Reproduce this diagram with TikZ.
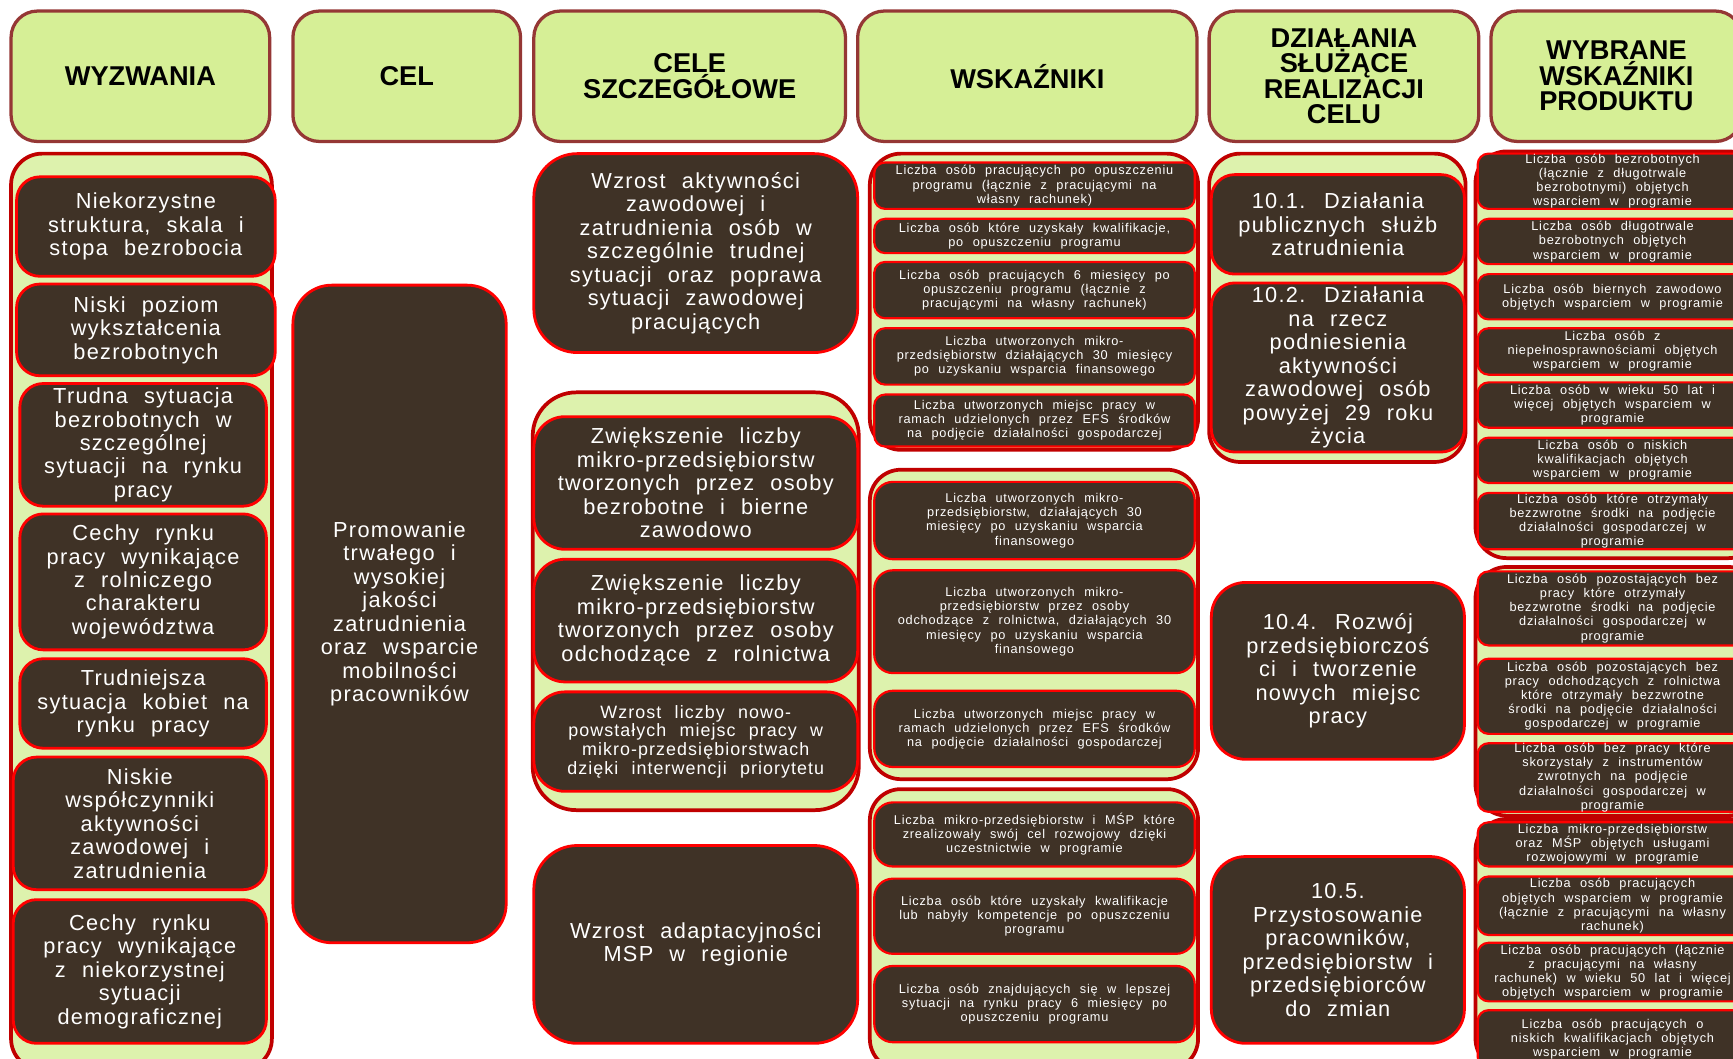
\documentclass[tikz,border=0pt]{standalone}
\usepackage{fontspec}
\setmainfont{Liberation Sans}
\newfontfamily\spaced[LetterSpace=6,WordSpace=0.75]{Liberation Sans}
\newfontfamily\widespaced[LetterSpace=6,WordSpace=2.2]{Liberation Sans}

\definecolor{headgreen}{HTML}{D6EF96}
\definecolor{headred}{HTML}{953735}
\definecolor{grpgreen}{HTML}{DDF2AD}
\definecolor{grpred}{HTML}{C00000}
\definecolor{boxbrown}{HTML}{3F3226}
\definecolor{boxred}{HTML}{FF0000}

\newcommand\headtxt{\bfseries\fontsize{17.5}{16.4}\selectfont\lineskiplimit=-20pt}
\newcommand\bigtxt{\spaced\fontsize{14}{15.1}\selectfont\lineskiplimit=-20pt}
\newcommand\midtxt{\widespaced\fontsize{11.5}{12.1}\selectfont\lineskiplimit=-20pt}
\newcommand\smalltxt{\spaced\fontsize{8.2}{9.1}\selectfont\lineskiplimit=-20pt}

\begin{document}
\begin{tikzpicture}[x=0.025cm, y=-0.025cm]
    \tikzset{
        corners/.style n args = {4}{at={({(#1+#3)/2},{(#2+#4)/2})},
                                    minimum width={(#3-#1)*0.025cm}, minimum height={(#4-#2)*0.025cm}},
        headbox/.style = {rectangle, rounded corners=17pt, draw=headred, fill=headgreen,
                          line width=2.1pt, inner sep=0pt, align=center, font=\headtxt},
        grpbox/.style = {rectangle, rounded corners=20pt, draw=grpred, fill=grpgreen,
                         line width=2.4pt, inner sep=0pt},
        block/.style = {rectangle, rounded corners=15pt, draw=boxred, fill=boxbrown,
                        line width=1.8pt, inner sep=0pt, text=white, align=center, font=\bigtxt},
        sblock/.style = {block, rounded corners=7pt, line width=1.4pt, font=\smalltxt}
    }
    \useasboundingbox (0,0) rectangle (1568,958);

    % nagłówki
    \node [headbox, corners={10}{10}{244}{128}] (hwyz) {WYZWANIA};
    \node [headbox, corners={265}{10}{471}{128}] (hcel) {CEL};
    \node [headbox, corners={483}{10}{765}{128}] (hcsz) {CELE\\SZCZEGÓŁOWE};
    \node [headbox, corners={776}{10}{1083}{128}] (hwsk) {WSKAŹNIKI};
    \node [headbox, corners={1094}{10}{1338}{128}] (hdzi) {DZIAŁANIA\\SŁUŻĄCE\\REALIZACJI\\CELU};
    \node [headbox, corners={1349}{10}{1576}{128}] (hwyb) {WYBRANE\\WSKAŹNIKI\\PRODUKTU};

    % wyzwania
    \node [grpbox, corners={10}{139}{246}{968}] (gwyz) {};
    \node [block, corners={15}{160}{249}{250}] (wyz1) {Niekorzystne\\struktura, skala i\\stopa bezrobocia};
    \node [block, corners={15}{257}{249}{340}] (wyz2) {Niski poziom\\wykształcenia\\bezrobotnych};
    \node [block, corners={18}{347}{241}{458}] (wyz3) {Trudna sytuacja\\bezrobotnych w\\szczególnej\\sytuacji na rynku\\pracy};
    \node [block, corners={18}{465}{241}{588}] (wyz4) {Cechy rynku\\pracy wynikające\\z rolniczego\\charakteru\\województwa};
    \node [block, corners={18}{596}{241}{677}] (wyz5) {Trudniejsza\\sytuacja kobiet na\\rynku pracy};
    \node [block, corners={12}{685}{241}{805}] (wyz6) {Niskie\\współczynniki\\aktywności\\zawodowej i\\zatrudnienia};
    \node [block, corners={12}{814}{241}{944}] (wyz7) {Cechy rynku\\pracy wynikające\\z niekorzystnej\\sytuacji\\demograficznej};

    % cel
    \node [block, rounded corners=25pt, corners={265}{258}{458}{853}] (cel) {Promowanie\\trwałego i\\wysokiej\\jakości\\zatrudnienia\\oraz wsparcie\\mobilności\\pracowników};

    % cele szczegółowe
    \node [block, rounded corners=28pt, corners={483}{139}{776}{319}] (csz1) {Wzrost aktywności\\zawodowej i\\zatrudnienia osób w\\szczególnie trudnej\\sytuacji oraz poprawa\\sytuacji zawodowej\\pracujących};
    \node [grpbox, rounded corners=28pt, corners={482}{355}{777}{733}] (gcsz) {};
    \node [block, rounded corners=20pt, corners={483}{377}{776}{497}] (csz2) {Zwiększenie liczby\\mikro-przedsiębiorstw\\tworzonych przez osoby\\bezrobotne i bierne\\zawodowo};
    \node [block, rounded corners=20pt, corners={483}{506}{776}{617}] (csz3) {Zwiększenie liczby\\mikro-przedsiębiorstw\\tworzonych przez osoby\\odchodzące z rolnictwa};
    \node [block, rounded corners=20pt, font=\midtxt, corners={483}{626}{776}{716}] (csz4) {Wzrost liczby nowo-\\powstałych miejsc pracy w\\mikro-przedsiębiorstwach\\dzięki interwencji priorytetu};
    \node [block, rounded corners=28pt, corners={483}{765}{776}{944}] (csz5) {Wzrost adaptacyjności\\MSP w regionie};

    % wskaźniki
    \node [grpbox, corners={787}{139}{1084}{407}] (gwsk1) {};
    \node [sblock, corners={791}{147}{1081}{189}] (wsk1) {Liczba osób pracujących po opuszczeniu\\programu (łącznie z pracującymi na\\własny rachunek)};
    \node [sblock, corners={791}{198}{1081}{229}] (wsk2) {Liczba osób które uzyskały kwalifikacje,\\po opuszczeniu programu};
    \node [sblock, corners={791}{237}{1081}{288}] (wsk3) {Liczba osób pracujących 6 miesięcy po\\opuszczeniu programu (łącznie z\\pracującymi na własny rachunek)};
    \node [sblock, corners={791}{297}{1081}{348}] (wsk4) {Liczba utworzonych mikro-\\przedsiębiorstw działających 30 miesięcy\\po uzyskaniu wsparcia finansowego};
    \node [sblock, corners={791}{357}{1081}{404}] (wsk5) {Liczba utworzonych miejsc pracy w\\ramach udzielonych przez EFS środków\\na podjęcie działalności gospodarczej};

    \node [grpbox, corners={787}{425}{1084}{705}] (gwsk2) {};
    \node [sblock, rounded corners=12pt, corners={791}{436}{1081}{506}] (wsk6) {Liczba utworzonych mikro-\\przedsiębiorstw, działających 30\\miesięcy po uzyskaniu wsparcia\\finansowego};
    \node [sblock, rounded corners=12pt, corners={791}{516}{1081}{609}] (wsk7) {Liczba utworzonych mikro-\\przedsiębiorstw przez osoby\\odchodzące z rolnictwa, działających 30\\miesięcy po uzyskaniu wsparcia\\finansowego};
    \node [sblock, rounded corners=12pt, corners={791}{625}{1081}{694}] (wsk8) {Liczba utworzonych miejsc pracy w\\ramach udzielonych przez EFS środków\\na podjęcie działalności gospodarczej};

    \node [grpbox, corners={787}{714}{1084}{968}] (gwsk3) {};
    \node [sblock, rounded corners=12pt, corners={791}{726}{1081}{784}] (wsk9) {Liczba mikro-przedsiębiorstw i MŚP które\\zrealizowały swój cel rozwojowy dzięki\\uczestnictwie w programie};
    \node [sblock, rounded corners=12pt, corners={791}{795}{1081}{863}] (wsk10) {Liczba osób które uzyskały kwalifikacje\\lub nabyły kompetencje po opuszczeniu\\programu};
    \node [sblock, rounded corners=12pt, corners={791}{874}{1081}{943}] (wsk11) {Liczba osób znajdujących się w lepszej\\sytuacji na rynku pracy 6 miesięcy po\\opuszczeniu programu};

    % działania
    \node [grpbox, corners={1094}{139}{1326}{418}] (gdzi) {};
    \node [block, corners={1096}{158}{1325}{248}] (dz1) {10.1. Działania\\publicznych służb\\zatrudnienia};
    \node [block, corners={1096}{256}{1325}{409}] (dz2) {10.2. Działania\\na rzecz\\podniesienia\\aktywności\\zawodowej osób\\powyżej 29 roku\\życia};
    \node [block, rounded corners=22pt, corners={1096}{527}{1325}{687}] (dz4) {10.4. Rozwój\\przedsiębiorczoś\\ci i tworzenie\\nowych miejsc\\pracy};
    \node [block, rounded corners=22pt, corners={1096}{775}{1325}{944}] (dz5) {10.5.\\Przystosowanie\\pracowników,\\przedsiębiorstw i\\przedsiębiorców\\do zmian};

    % wskaźniki produktu
    \node [grpbox, corners={1335}{137}{1592}{505}] (gprod1) {};
    \node [sblock, corners={1337}{139}{1581}{189}] (prod1) {Liczba osób bezrobotnych\\(łącznie z długotrwale\\bezrobotnymi) objętych\\wsparciem w programie};
    \node [sblock, corners={1337}{198}{1581}{239}] (prod2) {Liczba osób długotrwale\\bezrobotnych objętych\\wsparciem w programie};
    \node [sblock, corners={1337}{248}{1581}{289}] (prod3) {Liczba osób biernych zawodowo\\objętych wsparciem w programie};
    \node [sblock, corners={1337}{297}{1581}{339}] (prod4) {Liczba osób z\\niepełnosprawnościami objętych\\wsparciem w programie};
    \node [sblock, corners={1337}{346}{1581}{387}] (prod5) {Liczba osób w wieku 50 lat i\\więcej objętych wsparciem w\\programie};
    \node [sblock, corners={1337}{396}{1581}{437}] (prod6) {Liczba osób o niskich\\kwalifikacjach objętych\\wsparciem w programie};
    \node [sblock, corners={1337}{446}{1581}{497}] (prod7) {Liczba osób które otrzymały\\bezzwrotne środki na podjęcie\\działalności gospodarczej w\\programie};

    \node [grpbox, corners={1335}{513}{1592}{738}] (gprod2) {};
    \node [sblock, corners={1337}{517}{1581}{584}] (prod8) {Liczba osób pozostających bez\\pracy które otrzymały\\bezzwrotne środki na podjęcie\\działalności gospodarczej w\\programie};
    \node [sblock, corners={1337}{596}{1581}{664}] (prod9) {Liczba osób pozostających bez\\pracy odchodzących z rolnictwa\\które otrzymały bezzwrotne\\środki na podjęcie działalności\\gospodarczej w programie};
    \node [sblock, corners={1337}{673}{1581}{734}] (prod10) {Liczba osób bez pracy które\\skorzystały z instrumentów\\zwrotnych na podjęcie\\działalności gospodarczej w\\programie};

    \node [grpbox, corners={1335}{741}{1592}{968}] (gprod3) {};
    \node [sblock, corners={1337}{744}{1581}{784}] (prod11) {Liczba mikro-przedsiębiorstw\\oraz MŚP objętych usługami\\rozwojowymi w programie};
    \node [sblock, corners={1337}{793}{1581}{846}] (prod12) {Liczba osób pracujących\\objętych wsparciem w programie\\(łącznie z pracującymi na własny\\rachunek)};
    \node [sblock, corners={1337}{853}{1581}{906}] (prod13) {Liczba osób pracujących (łącznie\\z pracującymi na własny\\rachunek) w wieku 50 lat i więcej\\objętych wsparciem w programie};
    \node [sblock, corners={1337}{914}{1581}{966}] (prod14) {Liczba osób pracujących o\\niskich kwalifikacjach objętych\\wsparciem w programie};

\end{tikzpicture}
\end{document}
